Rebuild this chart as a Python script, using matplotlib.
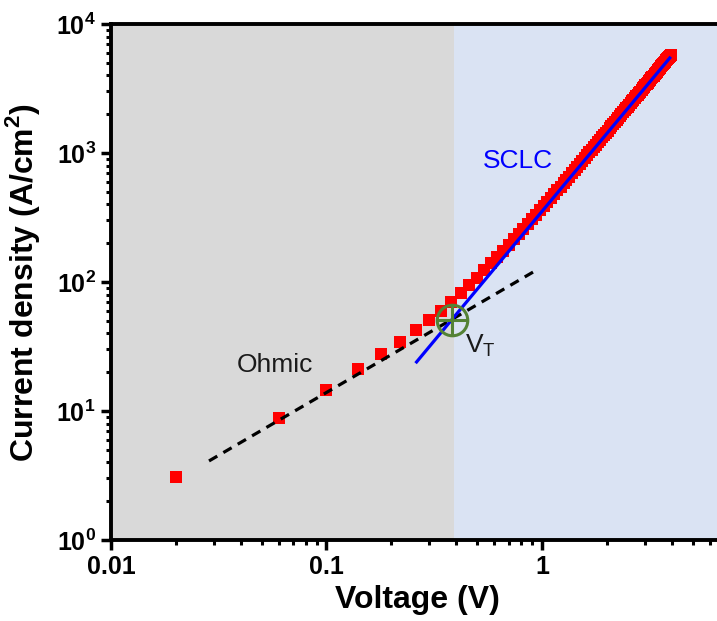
import matplotlib
matplotlib.use("Agg")
import matplotlib.pyplot as plt
from matplotlib.ticker import FixedLocator, FixedFormatter, LogLocator, NullFormatter

plt.rcParams['font.family'] = ['Liberation Sans', 'DejaVu Sans']
plt.rcParams['mathtext.fontset'] = 'custom'
plt.rcParams['mathtext.rm'] = 'Liberation Sans'
plt.rcParams['mathtext.bf'] = 'Liberation Sans:bold'

# measured J-V points
voltage = [0.02, 0.06, 0.10, 0.14, 0.18, 0.22, 0.26, 0.30, 0.34, 0.38,
           0.42, 0.46, 0.50, 0.54, 0.58, 0.62, 0.66, 0.70, 0.74, 0.78,
           0.82, 0.86, 0.90, 0.94, 0.98, 1.02, 1.06, 1.10, 1.14, 1.18,
           1.22, 1.26, 1.30, 1.34, 1.38, 1.42, 1.46, 1.50, 1.54, 1.58,
           1.62, 1.66, 1.70, 1.74, 1.78, 1.82, 1.86, 1.90, 1.94, 1.98,
           2.02, 2.06, 2.10, 2.14, 2.18, 2.22, 2.26, 2.30, 2.34, 2.38,
           2.42, 2.46, 2.50, 2.54, 2.58, 2.62, 2.66, 2.70, 2.74, 2.78,
           2.82, 2.86, 2.90, 2.94, 2.98, 3.02, 3.06, 3.10, 3.14, 3.18,
           3.22, 3.26, 3.30, 3.34, 3.38, 3.42, 3.46, 3.50, 3.54, 3.58,
           3.62, 3.66, 3.70, 3.74, 3.78, 3.82, 3.86, 3.90, 3.94, 3.98]
current = [3.1, 8.9, 14.5, 21, 27.5, 34.5, 42.5, 50.5, 60, 70,
           82, 95, 108, 124, 140, 157, 175, 194, 214, 235,
           257, 281, 306, 332, 360, 388, 417, 448, 480, 513,
           548, 583, 620, 657, 697, 738, 780, 824, 868, 914,
           961, 1009, 1058, 1108, 1160, 1212, 1266, 1321, 1377, 1435,
           1493, 1553, 1614, 1676, 1739, 1804, 1869, 1936, 2004, 2073,
           2143, 2215, 2288, 2361, 2436, 2512, 2590, 2668, 2748, 2829,
           2911, 2994, 3078, 3164, 3250, 3338, 3427, 3517, 3609, 3701,
           3795, 3890, 3986, 4083, 4181, 4281, 4382, 4484, 4587, 4691,
           4796, 4903, 5011, 5120, 5230, 5341, 5453, 5567, 5682, 5798]

# fit lines (end points)
ohmic_v = [0.0285, 0.946]
ohmic_j = [4.1, 124]
sclc_v = [0.262, 3.92]
sclc_j = [24, 5450]

# transition voltage
vt_v = 0.382
vt_j = 50.7
boundary = 0.39

xticks = [0.01, 0.1, 1]
xlabels = ['0.01', '0.1', '1']
yticks = [1, 10, 100, 1000, 10000]
ylabels = [r'$\mathbf{10^{0}}$', r'$\mathbf{10^{1}}$', r'$\mathbf{10^{2}}$',
           r'$\mathbf{10^{3}}$', r'$\mathbf{10^{4}}$']

fig = plt.figure(figsize=(7.17, 6.21), dpi=100)
ax = fig.add_axes([111 / 717, 81 / 621, 613 / 717, 516 / 621])
ax.set_xscale('log')
ax.set_yscale('log')
ax.set_xlim(0.01, 7)
ax.set_ylim(1, 1e4)

ax.axvspan(0.01, boundary, color='#d9d9d9', lw=0, zorder=0)
ax.axvspan(boundary, 7, color='#dae3f3', lw=0, zorder=0)

ax.plot(voltage, current, 's', color='#ff0000', ms=8, mew=0, zorder=2)
ax.plot(ohmic_v, ohmic_j, color='black', lw=2.3, dashes=(3, 2.2), zorder=3)
ax.plot(sclc_v, sclc_j, color='#0000ff', lw=2.3, zorder=3)

ax.plot([vt_v], [vt_j], 'o', ms=22, mfc='none', mec='#548235', mew=2.2, zorder=4)
ax.plot([vt_v], [vt_j], '+', ms=22, mec='#548235', mew=2.2, zorder=4)

ax.text(0.0383, 20, 'Ohmic', fontsize=19, color='#1a1a1a', va='baseline')
ax.text(0.531, 765, 'SCLC', fontsize=19, color='#0000ff', va='baseline')
ax.text(0.438, 28.2, r'V$_\mathrm{T}$', fontsize=19, color='#1a1a1a', va='baseline')

ax.xaxis.set_major_locator(FixedLocator(xticks))
ax.xaxis.set_major_formatter(FixedFormatter(xlabels))
ax.yaxis.set_major_locator(FixedLocator(yticks))
ax.yaxis.set_major_formatter(FixedFormatter(ylabels))
ax.xaxis.set_minor_locator(LogLocator(base=10, subs=range(2, 10), numticks=20))
ax.yaxis.set_minor_locator(LogLocator(base=10, subs=range(2, 10), numticks=20))
ax.xaxis.set_minor_formatter(NullFormatter())
ax.yaxis.set_minor_formatter(NullFormatter())

ax.tick_params(which='major', direction='out', length=7, width=2.5, labelsize=18, pad=4)
ax.tick_params(which='minor', direction='out', length=3.8, width=2.2)
ax.tick_params(top=False, right=False, which='both')
for lab in ax.get_xticklabels():
    lab.set_fontweight('bold')

for side in ['left', 'bottom', 'top']:
    ax.spines[side].set_linewidth(2.8)
ax.spines['right'].set_visible(False)

ax.set_xlabel('Voltage (V)', fontsize=23, fontweight='bold', labelpad=4)
ax.set_ylabel(r'Current density (A/cm$^\mathbf{2}$)', fontsize=23,
              fontweight='bold', labelpad=10)

fig.savefig('out.png', dpi=100)
